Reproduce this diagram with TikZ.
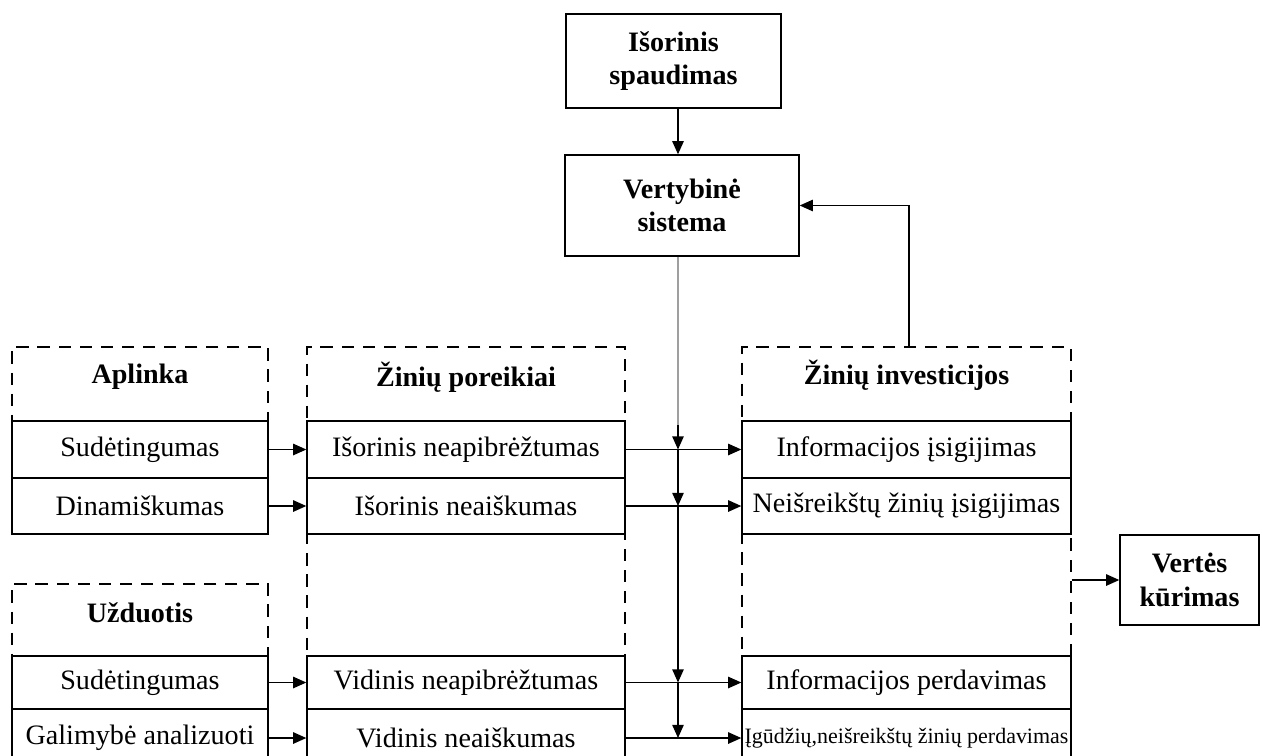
\documentclass[tikz,border=0pt]{standalone}
\usepackage{fontspec}
\setmainfont{Liberation Serif}
\usetikzlibrary{arrows.meta}
\begin{document}
\begin{tikzpicture}[x=0.02cm, y=-0.02cm,
    box/.style={draw, line width=0.8pt, inner sep=0pt, align=center,
                font=\fontsize{16}{19}\selectfont\bfseries},
    dframe/.style={draw, dash pattern=on 7pt off 5pt, line width=0.8pt, inner sep=0pt},
    ttl/.style={font=\fontsize{16}{19}\selectfont\bfseries},
    cell/.style={draw, line width=0.8pt, inner sep=0pt, font=\fontsize{16}{19}\selectfont},
    lcol/.style={cell, minimum width=5.12cm},
    mcol/.style={cell, minimum width=6.36cm},
    rcol/.style={cell, minimum width=6.58cm},
    arr/.style={-{Triangle[length=7.5pt,width=6.5pt]}, line width=0.8pt}
  ]
  \useasboundingbox (0,0) rectangle (1262,755);
  \clip (0,0) rectangle (1262,755);

  % virsutiniai blokai
  \node[box, minimum width=4.3cm, minimum height=1.88cm] (press) at (673.5,61) {Išorinis\\spaudimas};
  \node[box, minimum width=4.68cm, minimum height=2.02cm] (vert) at (682,205.5) {Vertybinė\\sistema};
  \node[box, minimum width=2.78cm, minimum height=1.8cm] (val) at (1189.5,580) {Vertės\\kūrimas};

  % punktyriniai remai
  \node[dframe, minimum width=5.12cm, minimum height=1.48cm] (aplFrame) at (140,384) {};
  \node[dframe, minimum width=5.12cm, minimum height=1.44cm] (uzdFrame) at (140,620) {};
  \node[dframe, minimum width=6.36cm, minimum height=8.46cm] (mFrame) at (466,558.5) {};
  \node[dframe, minimum width=6.58cm, minimum height=8.46cm] (rFrame) at (906.5,558.5) {};

  \node[ttl] (aplT) at (140,377) {Aplinka};
  \node[ttl] (uzdT) at (140,613) {Užduotis};
  \node[ttl] (mT) at (466,377) {Žinių poreikiai};
  \node[ttl] (rT) at (906.5,375) {Žinių investicijos};

  % eilutes
  \node[lcol, minimum height=1.14cm] (l1) at (140,449.5) {Sudėtingumas};
  \node[lcol, minimum height=1.12cm] (l2) at (140,506) {Dinamiškumas};
  \node[lcol, minimum height=1.06cm] (u1) at (140,682.5) {Sudėtingumas};
  \node[lcol, minimum height=1.16cm] (u2) at (140,738) {Galimybė analizuoti};

  \node[mcol, minimum height=1.14cm] (m1) at (466,449.5) {Išorinis neapibrėžtumas};
  \node[mcol, minimum height=1.12cm] (m2) at (466,506) {Išorinis neaiškumas};
  \node[mcol, minimum height=1.06cm] (m3) at (466,682.5) {Vidinis neapibrėžtumas};
  \node[mcol, minimum height=1.16cm] (m4) at (466,738) {Vidinis neaiškumas};

  \node[rcol, minimum height=1.14cm] (r1) at (906.5,449.5) {Informacijos įsigijimas};
  \node[rcol, minimum height=1.12cm] (r2) at (906.5,506) {Neišreikštų žinių įsigijimas};
  \node[rcol, minimum height=1.06cm] (r3) at (906.5,682.5) {Informacijos perdavimas};
  \node[rcol, minimum height=1.16cm, font=\fontsize{12.5}{15}\selectfont] (r4) at (906.5,738) {Įgūdžių,neišreikštų žinių perdavimas};

  % rodykles
  \coordinate (bus) at (678,425);
  \coordinate (fb) at (909,347);
  \draw[arr] (press.south -| bus) -- (vert.north -| bus);
  \draw[line width=1.1pt, gray!75] (vert.south -| bus) -- (bus);
  \draw[arr] (bus) -- (bus |- m1.east);
  \foreach \a/\b in {m1/m2, m2/m3, m3/m4}
    \draw[arr] (bus |- \a.east) -- (bus |- \b.east);
  \foreach \a/\b in {l1/m1, l2/m2, u1/m3, u2/m4}
    \draw[arr] (\a.east) -- (\a.east -| \b.west);
  \foreach \i in {1,...,4}
    \draw[arr] (m\i.east) -- (m\i.east -| r\i.west);
  \draw[arr] (rFrame.east |- val.west) -- (val.west);
  \draw[arr] (fb) |- (vert.east);
\end{tikzpicture}
\end{document}
